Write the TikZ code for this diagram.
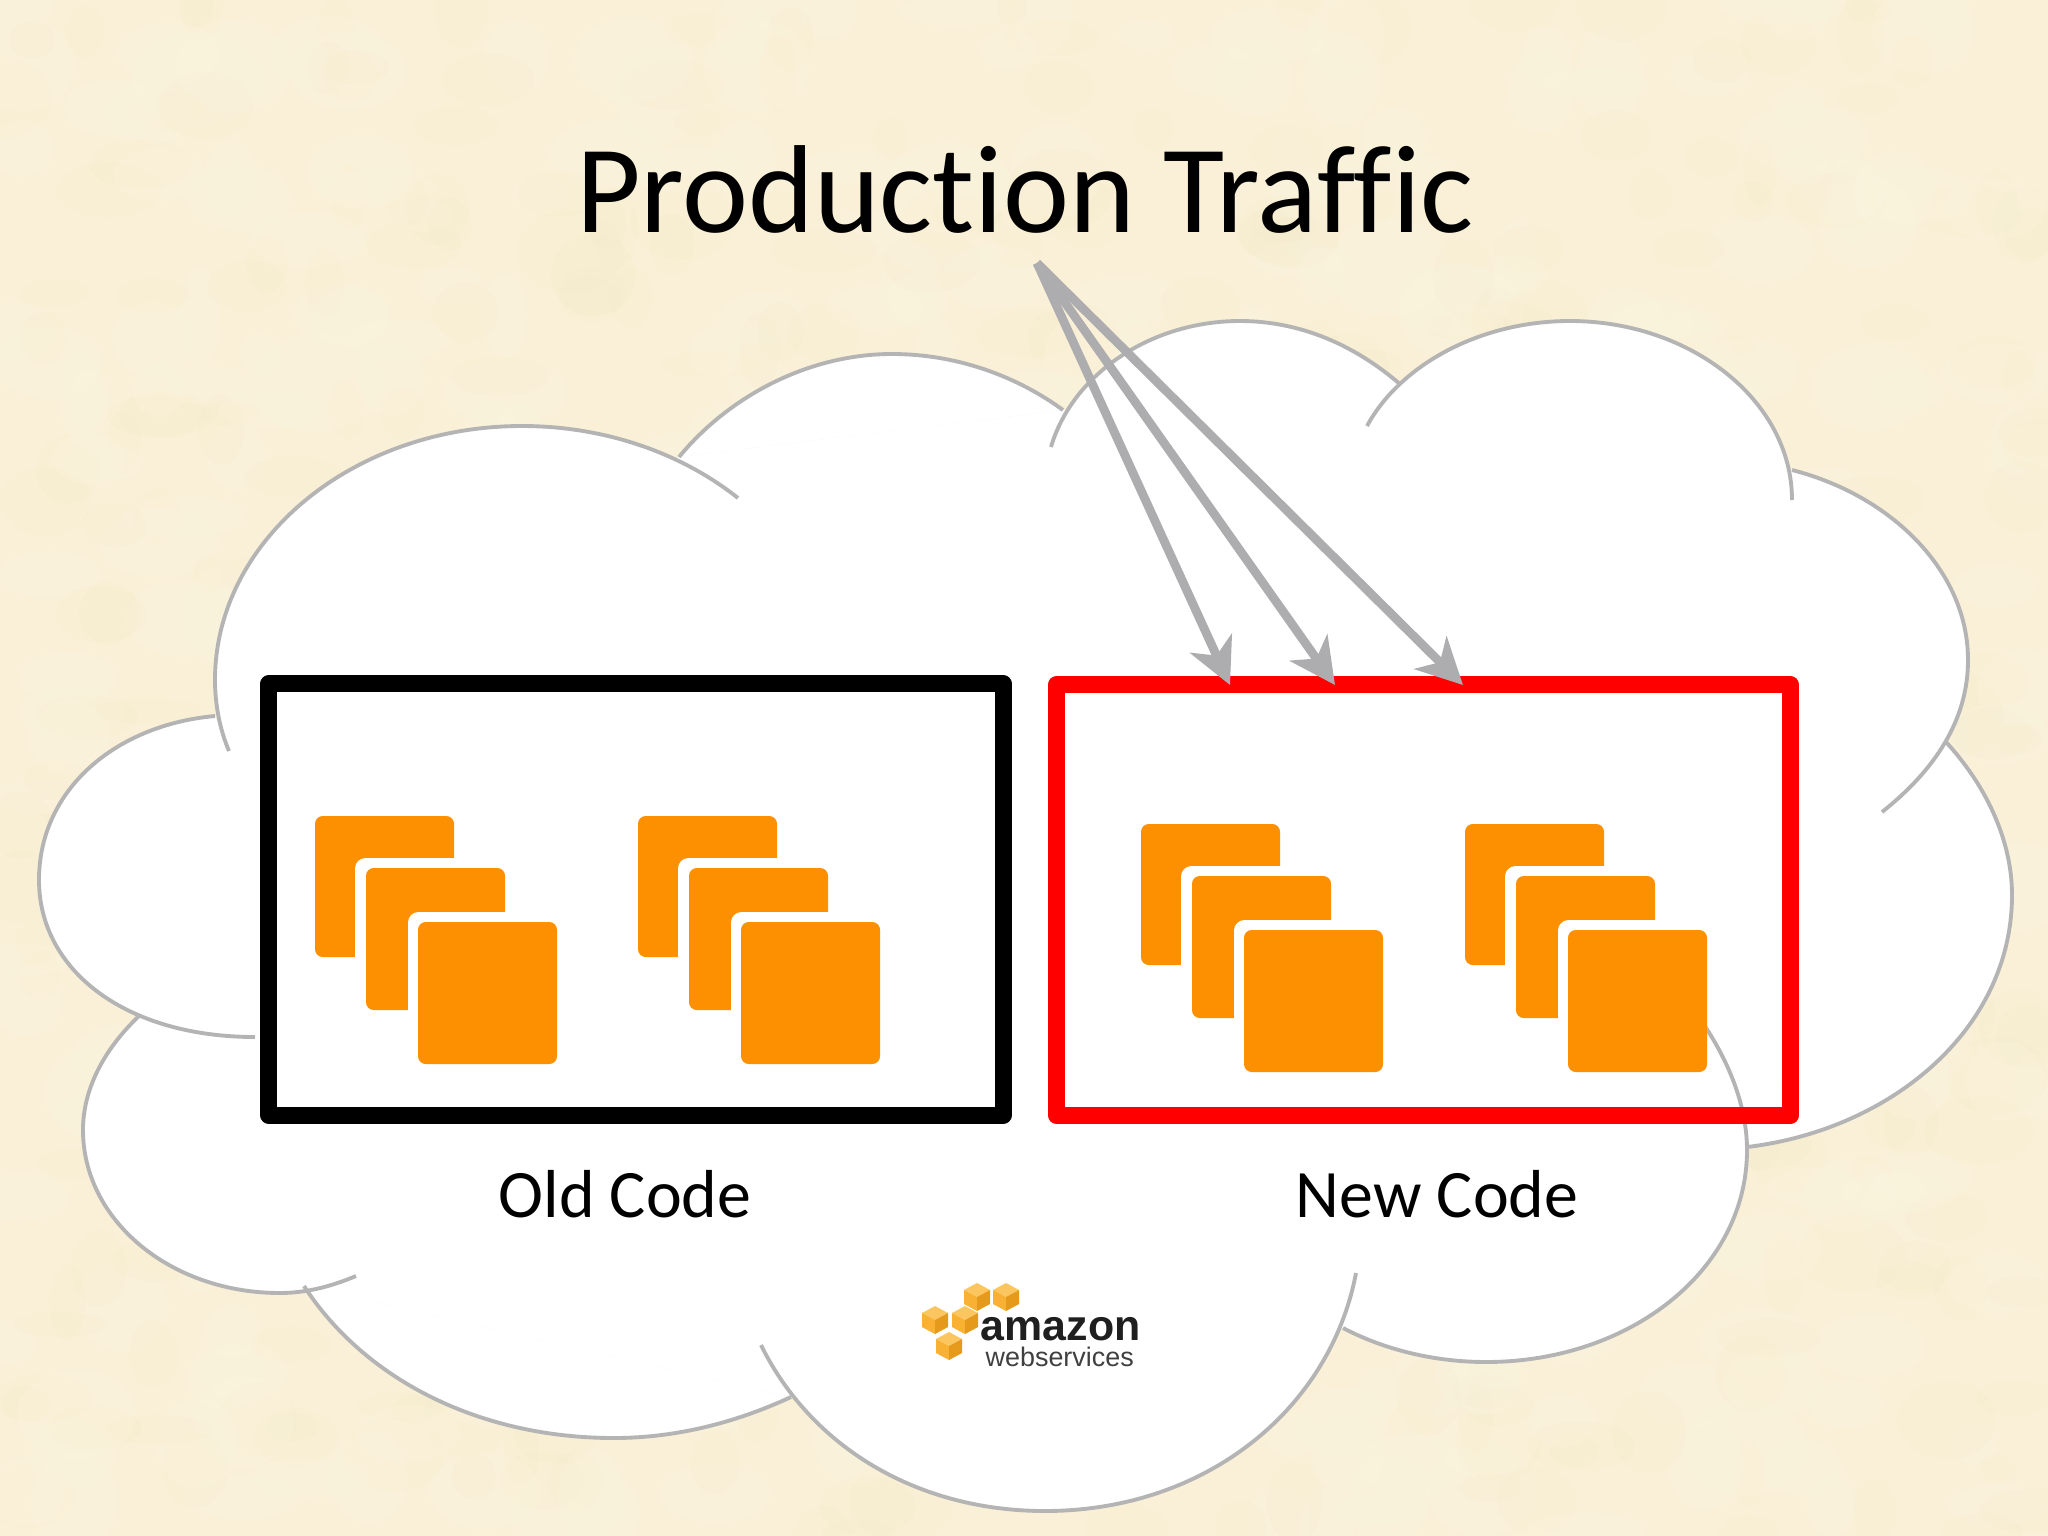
\documentclass[tikz,border=0pt]{standalone}
\usepackage{fontspec}
\setmainfont{Carlito}[Ligatures={NoCommon}]
\newfontfamily\logofont{Liberation Sans}
\usetikzlibrary{arrows.meta}
\definecolor{parch}{HTML}{F9F0D7}
\definecolor{parchL}{HTML}{FDF7E4}
\definecolor{parchD}{HTML}{F5EACA}
\definecolor{cloudline}{HTML}{B4B4B4}
\definecolor{arrowgrey}{HTML}{ADADB0}
\definecolor{awsorange}{HTML}{FC9000}
\definecolor{cubeA}{HTML}{F8B133}
\definecolor{cubeB}{HTML}{E59A1C}
\definecolor{cubeC}{HTML}{FBC65F}
\tikzset{
  cloudedge/.style={draw=cloudline,line width=1.1pt,line cap=butt},
  codebox/.style={draw,line width=4.8pt,line join=round,inner sep=0pt,outer sep=0pt,minimum width=7.34cm,minimum height=4.31cm},
  traffic/.style={draw=arrowgrey,line width=2.5pt,-{Stealth[length=13pt,width=13pt,inset=3.8pt]}},
  instgap/.style={fill=white,rounded corners=3pt},
  inst/.style={fill=awsorange,rounded corners=2.2pt},
  codelabel/.style={font=\fontsize{19.3}{22}\selectfont,anchor=base,inner sep=0pt},
}
% cloud lobes
\def\lobeA{(229,751) .. controls (220,730) and (215,705) .. (215,680) .. controls (215,540) and (353,426) .. (522,426) .. controls (603,426) and (680,452) .. (738,498)}
\def\lobeB{(679,457) .. controls (730,395) and (810,354) .. (892,354) .. controls (955,354) and (1015,375) .. (1063,410)}
\def\lobeC{(1051,447) .. controls (1072,375) and (1150,321) .. (1240,321) .. controls (1300,321) and (1355,345) .. (1401,385)}
\def\lobeD{(1367,426) .. controls (1400,365) and (1480,321) .. (1570,321) .. controls (1690,321) and (1792,400) .. (1792,500)}
\def\lobeE{(1792,470) .. controls (1890,495) and (1968,570) .. (1968,660) .. controls (1968,720) and (1935,770) .. (1882,812)}
\def\lobeF{(1946,742) .. controls (1990,790) and (2012,845) .. (2012,895) .. controls (2012,1030) and (1890,1130) .. (1747,1147)}
\def\lobeG{(1690,1005) .. controls (1728,1055) and (1747,1105) .. (1747,1150) .. controls (1747,1270) and (1630,1362) .. (1486,1362) .. controls (1435,1362) and (1385,1350) .. (1343,1328)}
\def\lobeH{(1356,1273) .. controls (1330,1410) and (1205,1511) .. (1045,1511) .. controls (915,1511) and (810,1445) .. (761,1345)}
\def\lobeI{(791,1397) .. controls (735,1423) and (675,1438) .. (614,1438) .. controls (480,1438) and (365,1380) .. (304,1286)}
\def\lobeJ{(356,1276) .. controls (330,1287) and (305,1293) .. (280,1293) .. controls (170,1293) and (83,1220) .. (83,1130) .. controls (83,1090) and (103,1050) .. (140,1015)}
\def\lobeK{(255,1037) .. controls (125,1037) and (39,970) .. (39,880) .. controls (39,790) and (115,725) .. (215,716)}
\newcommand{\awsstack}[2]{%
  \begin{scope}[shift={(#1,#2)}]
    \fill[inst] (315,816) rectangle (454,957);
    \fill[instgap] (355,858) rectangle (505,1010);
    \fill[inst] (366,868) rectangle (505,1010);
    \fill[instgap] (408,912) rectangle (557,1064);
    \fill[inst] (418,922) rectangle (557,1064);
  \end{scope}}
\newcommand{\awscube}[2]{%
  \begin{scope}[shift={(#1,#2)}]
    \fill[cubeC] (0,-14) -- (13,-7) -- (0,0) -- (-13,-7) -- cycle;
    \fill[cubeA] (-13,-7) -- (0,0) -- (0,14) -- (-13,7) -- cycle;
    \fill[cubeB] (13,-7) -- (0,0) -- (0,14) -- (13,7) -- cycle;
  \end{scope}}
\begin{document}
\begin{tikzpicture}[x=0.01cm,y=-0.01cm]
  \useasboundingbox (0,0) rectangle (2048,1536);
  \clip (0,0) rectangle (2048,1536);
  % parchment
  \fill[parch] (0,0) rectangle (2048,1536);
  \pgfmathsetseed{11}
  \foreach \i in {1,...,420}{
    \pgfmathsetmacro{\bx}{rnd*2048}
    \pgfmathsetmacro{\by}{rnd*1536}
    \pgfmathsetmacro{\brx}{20+rnd*45}
    \pgfmathsetmacro{\bry}{15+rnd*35}
    \fill[parchL,opacity=0.2] (\bx,\by) ellipse [x radius=\brx,y radius=\bry];
    \pgfmathsetmacro{\bx}{rnd*2048}
    \pgfmathsetmacro{\by}{rnd*1536}
    \pgfmathsetmacro{\brx}{15+rnd*40}
    \pgfmathsetmacro{\bry}{12+rnd*30}
    \fill[parchD,opacity=0.16] (\bx,\by) ellipse [x radius=\brx,y radius=\bry];
  }
  % cloud body
  \fill[white] (215,716) -- (229,751) -- (679,457) -- (1063,410) -- (1401,385) -- (1792,470)
    -- (1946,742) -- (1747,1147) -- (1343,1328) -- (791,1397) -- (304,1286) -- (140,1015) -- cycle;
  \foreach \lobe in {\lobeA,\lobeB,\lobeC,\lobeD,\lobeE,\lobeF,\lobeG,\lobeH,\lobeI,\lobeJ,\lobeK}{
    \fill[white] \lobe -- cycle;
  }
  \foreach \lobe in {\lobeA,\lobeB,\lobeC,\lobeD,\lobeE,\lobeF,\lobeG,\lobeH,\lobeI,\lobeJ,\lobeK}{
    \path[cloudedge] \lobe;
  }
  % boxes
  \node[codebox,draw=black] (oldbox) at (636,899.5) {};
  \node[codebox,draw=red,minimum width=7.33cm] (newbox) at (1423.5,900) {};
  % instances
  \awsstack{0}{0}
  \awsstack{323}{0}
  \awsstack{826}{8}
  \awsstack{1150}{8}
  % labels
  \node[font=\fontsize{35.6}{40}\selectfont,anchor=base,inner sep=0pt] (title) at (1025,232) {Production Traffic};
  \node[codelabel] (oldlabel) at (625,1217) {Old Code};
  \node[codelabel] (newlabel) at (1437,1217) {New Code};
  % arrows
  \coordinate (source) at (1037,263);
  \coordinate (targetA) at (1230,685);
  \coordinate (targetB) at (1335,685);
  \coordinate (targetC) at (1463,685);
  \draw[traffic] (source) -- (targetA);
  \draw[traffic] (source) -- (targetB);
  \draw[traffic] (source) -- (targetC);
  % logo
  \awscube{977}{1297}
  \awscube{1006}{1297}
  \awscube{935}{1320}
  \awscube{965}{1320}
  \awscube{949}{1346}
  \node[font=\logofont\bfseries\fontsize{12.2}{13}\selectfont,anchor=base west,inner sep=0pt,text=black!88] (amazon) at (980,1340) {amazon};
  \node[font=\logofont\fontsize{7.65}{9}\selectfont,anchor=base west,inner sep=0pt,text=black!75] (webservices) at (985,1366) {webservices};
\end{tikzpicture}
\end{document}
